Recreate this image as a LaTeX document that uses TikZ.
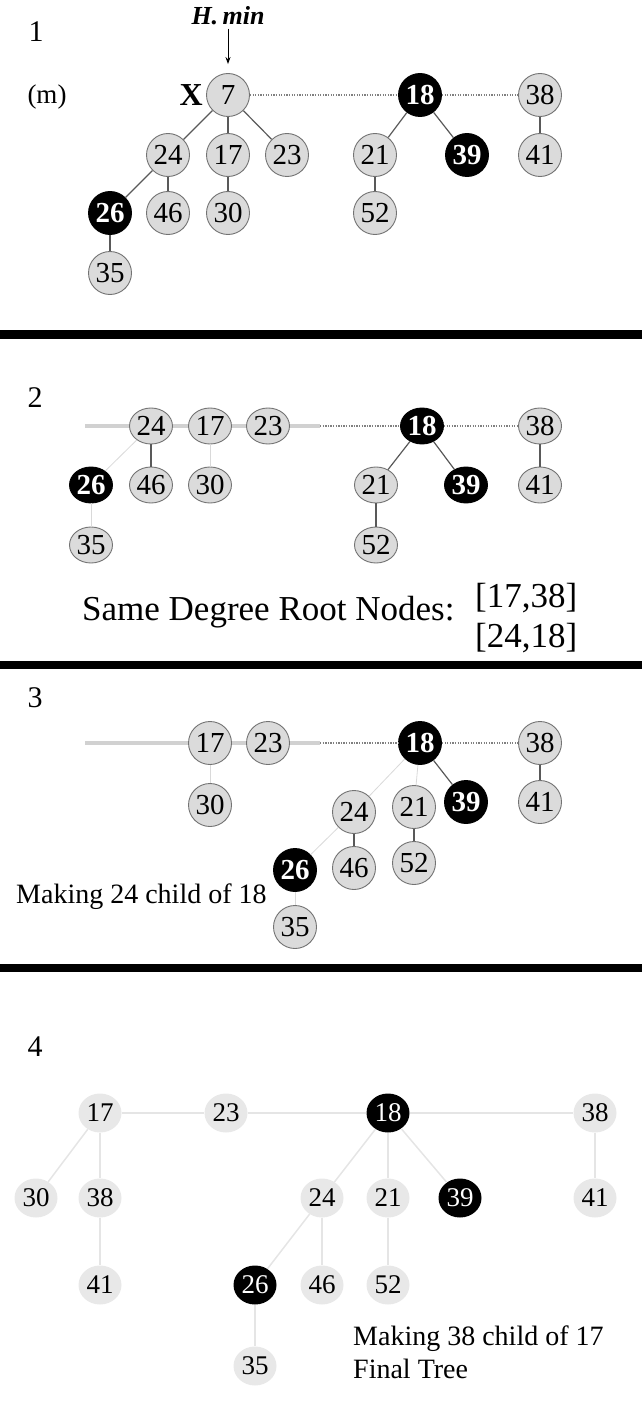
\documentclass[tikz,border=0pt]{standalone}
\usepackage{fontspec}
\setmainfont{Liberation Serif}
\usepackage{tikz}
\usetikzlibrary{arrows.meta}
\usetikzlibrary{shapes.geometric}

\tikzset{
	key/.style={circle,draw=black!55,fill=black!14,line width=0.9pt,minimum size=43pt,inner sep=0pt,font=\fontsize{29}{29}\selectfont},
	keymark/.style={key,draw=black,fill=black,text=white,font=\fontsize{29}{29}\selectfont\bfseries},
	okey/.style={key,ellipse,minimum width=43pt,minimum height=36pt},
	okeymark/.style={keymark,ellipse,minimum width=43pt,minimum height=36pt},
	flat/.style={ellipse,fill=black!9,minimum width=43pt,minimum height=39pt,inner sep=0pt,font=\fontsize{27}{27}\selectfont},
	flatmark/.style={flat,fill=black,text=white},
	link/.style={draw=black!65,line width=1.2pt},
	faint/.style={draw=black!15,line width=0.8pt},
	rootlist/.style={draw=black!50,line width=1.3pt,dash pattern=on 1.3pt off 1.3pt},
	oldlist/.style={draw=black!18,line width=4pt},
	flatlink/.style={draw=black!10,line width=1.5pt},
	label/.style={font=\fontsize{28}{33}\selectfont,inner sep=0pt}
}

\begin{document}
\begin{tikzpicture}[x=1pt,y=-1pt]
	\useasboundingbox (0,0) rectangle (642,1407);

	% separators
	\fill[black] (0,330) rectangle (642,339);
	\fill[black] (0,661) rectangle (642,669);
	\fill[black] (0,964) rectangle (642,972);

	% panel 1
	\node[label,font=\fontsize{30}{30}\selectfont] at (36,32) {1};
	\node[font=\fontsize{27}{27}\selectfont] at (47,97) {(m)};
	\node[font=\fontsize{26}{26}\selectfont\bfseries\itshape] (hmin) at (228,16) {H.\,min};

	\node[key] (a7) at (228,95) {7};
	\node[keymark] (a18) at (420,95) {18};
	\node[key] (a38) at (540,95) {38};
	\node[font=\fontsize{32}{32}\selectfont\bfseries,anchor=east,inner sep=3pt] (ax) at (a7.west) {X};
	\node[key] (a24) at (168,155) {24};
	\node[key] (a17) at (228,155) {17};
	\node[key] (a23) at (287,155) {23};
	\node[key] (a21) at (375,155) {21};
	\node[keymark] (a39) at (467,155) {39};
	\node[key] (a41) at (540,155) {41};
	\node[keymark] (a26) at (110,213) {26};
	\node[key] (a46) at (168,213) {46};
	\node[key] (a30) at (228,213) {30};
	\node[key] (a52) at (375,213) {52};
	\node[key] (a35) at (110,273) {35};

	\draw[-{Stealth[length=7pt,width=5pt]},line width=0.9pt,shorten >=9pt] (hmin.south) -- (a7.north);
	\draw[rootlist] (a7) -- (a18);
	\draw[rootlist] (a18) -- (a38);
	\draw[link] (a7) -- (a24);
	\draw[link] (a7) -- (a17);
	\draw[link] (a7) -- (a23);
	\draw[link] (a24) -- (a26);
	\draw[link] (a24) -- (a46);
	\draw[link] (a17) -- (a30);
	\draw[link] (a26) -- (a35);
	\draw[link] (a18) -- (a21);
	\draw[link] (a18) -- (a39);
	\draw[link] (a21) -- (a52);
	\draw[link] (a38) -- (a41);

	% panel 2
	\node[label,font=\fontsize{30}{30}\selectfont] at (35,398) {2};
	\coordinate (bl) at (85,426);
	\coordinate (br) at (320,426);
	\draw[oldlist] (bl) -- (br);

	\node[okey] (b24) at (151,426) {24};
	\node[okey] (b17) at (210,426) {17};
	\node[okey] (b23) at (268,426) {23};
	\node[okeymark] (b18) at (422,426) {18};
	\node[okey] (b38) at (540,426) {38};
	\node[okeymark] (b26) at (91,485) {26};
	\node[okey] (b46) at (151,485) {46};
	\node[okey] (b30) at (210,485) {30};
	\node[okey] (b21) at (376,485) {21};
	\node[okeymark] (b39) at (466,485) {39};
	\node[okey] (b41) at (540,485) {41};
	\node[okey] (b35) at (91,545) {35};
	\node[okey] (b52) at (376,545) {52};

	\draw[rootlist] (br) -- (b18);
	\draw[rootlist] (b18) -- (b38);
	\draw[faint] (b24) -- (b26);
	\draw[link] (b24) -- (b46);
	\draw[faint] (b17) -- (b30);
	\draw[faint] (b26) -- (b35);
	\draw[link] (b18) -- (b21);
	\draw[link] (b18) -- (b39);
	\draw[link] (b21) -- (b52);
	\draw[link] (b38) -- (b41);

	\node[font=\fontsize{35}{35}\selectfont,anchor=west,inner sep=0pt] at (82,612) {Same Degree Root Nodes:};
	\node[font=\fontsize{35}{35}\selectfont,anchor=west,inner sep=0pt] at (475,598) {[17,38]};
	\node[font=\fontsize{35}{35}\selectfont,anchor=west,inner sep=0pt] at (475,638) {[24,18]};

	% panel 3
	\node[label,font=\fontsize{30}{30}\selectfont] at (35,698) {3};
	\coordinate (cl) at (85,743);
	\coordinate (cr) at (320,743);
	\draw[oldlist] (cl) -- (cr);

	\node[key] (c17) at (210,743) {17};
	\node[key] (c23) at (268,743) {23};
	\node[keymark] (c18) at (420,743) {18};
	\node[key] (c38) at (540,743) {38};
	\node[key] (c30) at (210,805) {30};
	\node[key] (c24) at (354,812) {24};
	\node[key] (c21) at (414,807) {21};
	\node[keymark] (c39) at (466,802) {39};
	\node[key] (c41) at (540,802) {41};
	\node[keymark] (c26) at (295,870) {26};
	\node[key] (c46) at (354,868) {46};
	\node[key] (c52) at (414,863) {52};
	\node[key] (c35) at (295,927) {35};

	\draw[rootlist] (cr) -- (c18);
	\draw[rootlist] (c18) -- (c38);
	\draw[faint] (c17) -- (c30);
	\draw[faint] (c18) -- (c24);
	\draw[faint] (c18) -- (c21);
	\draw[link] (c18) -- (c39);
	\draw[faint] (c24) -- (c26);
	\draw[link] (c24) -- (c46);
	\draw[link] (c21) -- (c52);
	\draw[faint] (c26) -- (c35);
	\draw[link] (c38) -- (c41);

	\node[label,anchor=west] at (16,897) {Making 24 child of 18};

	% panel 4
	\node[label,font=\fontsize{30}{30}\selectfont] at (35,1047) {4};
	\node[flat] (d17) at (100,1113) {17};
	\node[flat] (d23) at (226,1113) {23};
	\node[flatmark] (d18) at (388,1113) {18};
	\node[flat] (d38) at (595,1113) {38};
	\node[flat] (d30) at (36,1198) {30};
	\node[flat] (d38l) at (100,1198) {38};
	\node[flat] (d24) at (322,1198) {24};
	\node[flat] (d21) at (388,1198) {21};
	\node[flatmark] (d39) at (460,1198) {39};
	\node[flat] (d41) at (595,1198) {41};
	\node[flat] (d41l) at (100,1285) {41};
	\node[flatmark] (d26) at (255,1285) {26};
	\node[flat] (d46) at (322,1285) {46};
	\node[flat] (d52) at (388,1285) {52};
	\node[flat] (d35) at (255,1366) {35};

	\draw[flatlink] (d17) -- (d23);
	\draw[flatlink] (d23) -- (d18);
	\draw[flatlink] (d18) -- (d38);
	\draw[flatlink] (d17) -- (d30);
	\draw[flatlink] (d17) -- (d38l);
	\draw[flatlink] (d38l) -- (d41l);
	\draw[flatlink] (d18) -- (d24);
	\draw[flatlink] (d18) -- (d21);
	\draw[flatlink] (d18) -- (d39);
	\draw[flatlink] (d38) -- (d41);
	\draw[flatlink] (d24) -- (d26);
	\draw[flatlink] (d24) -- (d46);
	\draw[flatlink] (d21) -- (d52);
	\draw[flatlink] (d26) -- (d35);

	\node[label,anchor=north west,align=left] at (353,1326) {Making 38 child of 17\\Final Tree};
\end{tikzpicture}
\end{document}
